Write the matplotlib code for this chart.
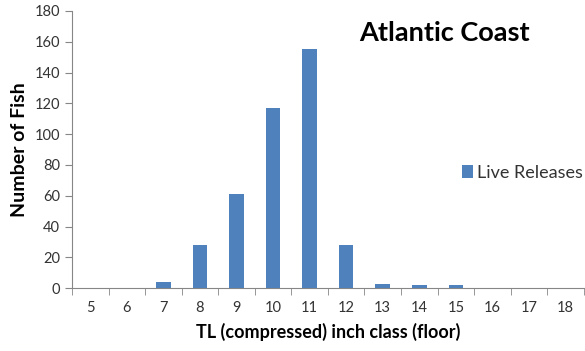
import numpy as np
import matplotlib.pyplot as plt

# inch classes and counts
classes = [5, 6, 7, 8, 9, 10, 11, 12, 13, 14, 15, 16, 17, 18]
live_releases = [0, 0, 4, 28, 61, 117, 155, 28, 3, 2, 2, 0, 0, 0]

plt.rcParams['font.family'] = ['Lato', 'DejaVu Sans']

fig = plt.figure(figsize=(5.85, 3.51), dpi=100)
ax = fig.add_axes([0.123, 0.179, 0.875, 0.79])

x = np.arange(len(classes))
ax.bar(x, live_releases, width=0.4, color='#4f81bd', label='Live Releases', zorder=3)

ax.set_xlim(-0.5, len(classes) - 0.5)
ax.set_ylim(0, 180)
ax.set_yticks(range(0, 181, 20))
ax.set_xticks(x)
ax.set_xticklabels([str(c) for c in classes])
# tick marks sit between categories
ax.set_xticks(np.arange(-0.5, len(classes), 1), minor=True)
ax.tick_params(axis='x', which='major', length=0, pad=9, labelsize=10.5, labelcolor='#333333')
ax.tick_params(axis='x', which='minor', length=5, color='#868686', direction='out')
ax.tick_params(axis='y', length=5, color='#868686', labelsize=10.5, labelcolor='#333333')

for s in ['top', 'right']:
    ax.spines[s].set_visible(False)
for s in ['left', 'bottom']:
    ax.spines[s].set_color('#868686')

ax.set_xlabel('TL (compressed) inch class (floor)', fontsize=13, fontweight='bold', labelpad=6)
ax.set_ylabel('Number of Fish', fontsize=14, fontweight='bold', labelpad=5)

ax.text(0.727, 0.92, 'Atlantic Coast', transform=ax.transAxes, fontsize=19.5,
        fontweight='bold', ha='center', va='center')

ax.legend(loc='center left', bbox_to_anchor=(0.762, 0.415), frameon=False,
          fontsize=13, handlelength=0.6, handleheight=0.7, handletextpad=0.25,
          borderpad=0, borderaxespad=0, labelcolor='#333333')

fig.savefig('out.png', dpi=100)
